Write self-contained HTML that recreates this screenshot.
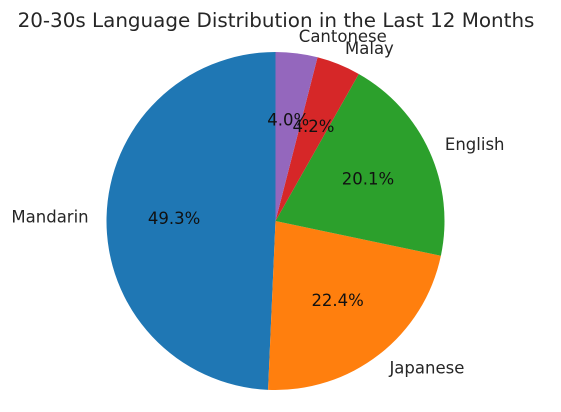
<!DOCTYPE html>
<html>
<head>
<meta charset="utf-8">
<style>
html,body{margin:0;padding:0;background:#fff;width:561px;height:412px;overflow:hidden}
svg{display:block;font-family:"DejaVu Sans","Liberation Sans",sans-serif;filter:blur(0.3px)}
</style>
</head>
<body>
<svg id="chart" width="561" height="412" viewBox="0 0 561 412" xmlns="http://www.w3.org/2000/svg">
<rect width="561" height="412" fill="#fff"/>
<text x="276" y="27" text-anchor="middle" font-size="19.9" fill="#262626">20-30s Language Distribution in the Last 12 Months</text>
</svg>
<script>
const categories = ['Mandarin', 'Japanese', 'English', 'Malay', 'Cantonese'];
const seriesValues = [49.3, 22.4, 20.1, 4.2, 4.0];
const sliceColors = ['#1f77b4', '#ff7f0e', '#2ca02c', '#d62728', '#9467bd'];

const svg = document.getElementById('chart');
const NS = 'http://www.w3.org/2000/svg';
const cx = 275.5, cy = 221, radius = 169;
const total = seriesValues.reduce((a, b) => a + b, 0);
const px = (deg, r) => cx + r * Math.cos(deg * Math.PI / 180);
const py = (deg, r) => cy - r * Math.sin(deg * Math.PI / 180);
const slug = s => s.toLowerCase();

let angle = 90;
const mids = [];
seriesValues.forEach((v, i) => {
  const sweep = v / total * 360;
  const end = angle + sweep;
  const large = sweep > 180 ? 1 : 0;
  const p = document.createElementNS(NS, 'path');
  p.setAttribute('d', 'M' + cx + ' ' + cy + 'L' + px(angle, radius) + ' ' + py(angle, radius) +
    'A' + radius + ' ' + radius + ' 0 ' + large + ' 0 ' + px(end, radius) + ' ' + py(end, radius) + 'Z');
  p.setAttribute('fill', sliceColors[i]);
  
  
  svg.appendChild(p);
  mids.push((angle + end) / 2);
  angle = end;
});

seriesValues.forEach((v, i) => {
  const m = mids[i];
  const label = document.createElementNS(NS, 'text');
  label.textContent = categories[i];
  const lx = px(m, radius * 1.1);
  label.setAttribute('x', lx < cx ? lx - 1 : lx);
  label.setAttribute('y', py(m, radius * 1.1) + 5.5);
  label.setAttribute('text-anchor', lx < cx ? 'end' : 'start');
  label.setAttribute('font-size', '16.5');
  label.setAttribute('fill', '#262626');
  
  
  svg.appendChild(label);

  const pct = document.createElementNS(NS, 'text');
  pct.textContent = v.toFixed(1) + '%';
  pct.setAttribute('x', px(m, radius * 0.6));
  pct.setAttribute('y', py(m, radius * 0.6) + 5);
  pct.setAttribute('text-anchor', 'middle');
  pct.setAttribute('font-size', '16.5');
  pct.setAttribute('fill', '#111');
  
  
  svg.appendChild(pct);
});
</script>
</body>
</html>
